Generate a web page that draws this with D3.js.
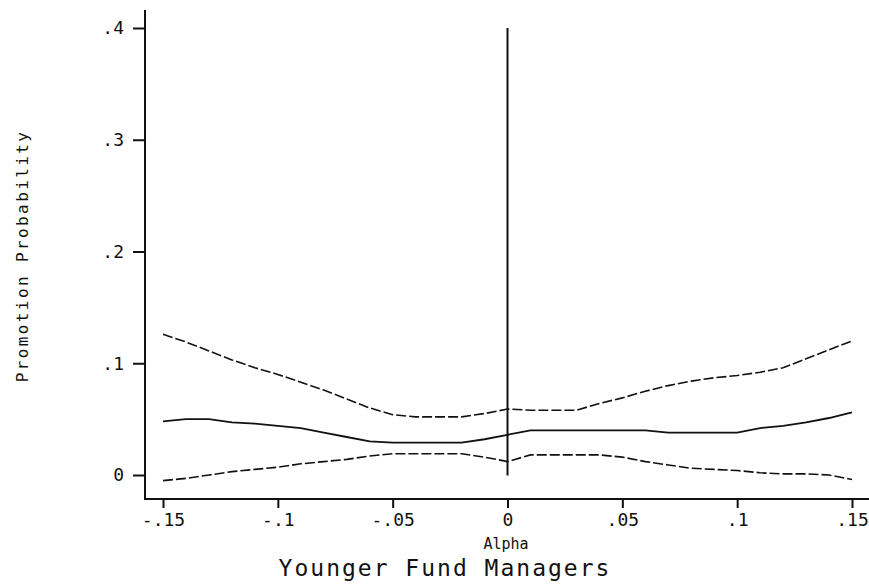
<!DOCTYPE html>
<html>
<head>
<meta charset="utf-8">
<script src="https://cdn.jsdelivr.net/npm/d3@7"></script>
<style>
  html, body { margin: 0; padding: 0; background: #fff; }
  svg { display: block; }
  text { font-family: "DejaVu Sans Mono", "Liberation Mono", monospace; fill: #111; }
</style>
</head>
<body>
<svg id="chart" width="869" height="588"></svg>
<script>
// ---- data ----
const alpha = [-0.15,-0.14,-0.13,-0.12,-0.11,-0.10,-0.09,-0.08,-0.07,-0.06,-0.05,-0.04,-0.03,-0.02,-0.01,
  0.00,0.01,0.02,0.03,0.04,0.05,0.06,0.07,0.08,0.09,0.10,0.11,0.12,0.13,0.14,0.15];
const upper = [0.126,0.119,0.111,0.103,0.096,0.090,0.083,0.076,0.068,0.060,0.054,0.052,0.052,0.052,0.055,
  0.059,0.058,0.058,0.058,0.064,0.069,0.075,0.080,0.084,0.087,0.089,0.092,0.096,0.104,0.112,0.120];
const middle = [0.048,0.050,0.050,0.047,0.046,0.044,0.042,0.038,0.034,0.030,0.029,0.029,0.029,0.029,0.032,
  0.036,0.040,0.040,0.040,0.040,0.040,0.040,0.038,0.038,0.038,0.038,0.042,0.044,0.047,0.051,0.056];
const lower = [-0.005,-0.003,0.000,0.003,0.005,0.007,0.010,0.012,0.014,0.017,0.019,0.019,0.019,0.019,0.016,
  0.012,0.018,0.018,0.018,0.018,0.016,0.012,0.009,0.006,0.005,0.004,0.002,0.001,0.001,0.000,-0.004];
const xTicks = [-0.15,-0.1,-0.05,0,0.05,0.1,0.15];
const xTickLabels = ["-.15","-.1","-.05","0",".05",".1",".15"];
const yTicks = [0,0.1,0.2,0.3,0.4];
const yTickLabels = ["0",".1",".2",".3",".4"];
const vlineX = 0;
const vlineRange = [0.013, 0.4];

// ---- layout ----
const svg = d3.select("#chart");
const x = d3.scaleLinear().domain([-0.15, 0.15]).range([163, 852]);
const y = d3.scaleLinear().domain([0, 0.4]).range([475, 28]);
const axisX = 145, axisY = 499;
const ink = "#111";

// axes lines
svg.append("line").attr("x1", axisX).attr("x2", axisX).attr("y1", 10).attr("y2", axisY + 1)
  .attr("stroke", ink).attr("stroke-width", 2);
svg.append("line").attr("x1", axisX).attr("x2", 869).attr("y1", axisY).attr("y2", axisY)
  .attr("stroke", ink).attr("stroke-width", 2);

// y ticks
const yAxis = d3.axisLeft(y).tickValues(yTicks).tickSize(12).tickPadding(9)
  .tickFormat((d, i) => yTickLabels[i]);
const gy = svg.append("g").attr("transform", `translate(${axisX},0)`).call(yAxis);
gy.select(".domain").remove();
gy.selectAll(".tick line").attr("stroke", ink).attr("stroke-width", 2);
gy.selectAll(".tick text").style("font-size", "18px").attr("fill", ink);

// x ticks
const xAxis = d3.axisBottom(x).tickValues(xTicks).tickSize(9).tickPadding(5)
  .tickFormat((d, i) => xTickLabels[i]);
const gx = svg.append("g").attr("transform", `translate(0,${axisY})`).call(xAxis);
gx.select(".domain").remove();
gx.selectAll(".tick line").attr("stroke", ink).attr("stroke-width", 2);
gx.selectAll(".tick text").style("font-size", "18px").attr("fill", ink);

// vertical reference line at alpha = 0
svg.append("line")
  .attr("x1", x(vlineX)).attr("x2", x(vlineX))
  .attr("y1", y(vlineRange[1])).attr("y2", y(vlineRange[0]) + 15)
  .attr("stroke", ink).attr("stroke-width", 2);

// series
const line = d3.line().x((d, i) => x(alpha[i])).y(d => y(d));
svg.append("path").attr("d", line(upper)).attr("fill", "none").attr("stroke", ink)
  .attr("stroke-width", 1.6).attr("stroke-dasharray", "10,3");
svg.append("path").attr("d", line(middle)).attr("fill", "none").attr("stroke", ink)
  .attr("stroke-width", 1.8);
svg.append("path").attr("d", line(lower)).attr("fill", "none").attr("stroke", ink)
  .attr("stroke-width", 1.6).attr("stroke-dasharray", "10,3");

// labels
svg.append("text").attr("x", 506).attr("y", 549).attr("text-anchor", "middle")
  .style("font-size", "15px").text("Alpha");
svg.append("text").attr("x", 445).attr("y", 576).attr("text-anchor", "middle")
  .style("font-size", "23px").style("letter-spacing", "2px").text("Younger Fund Managers");
svg.append("text").attr("transform", "translate(28,256) rotate(-90)").attr("text-anchor", "middle")
  .style("font-size", "16px").style("letter-spacing", "2.4px").text("Promotion Probability");
</script>
</body>
</html>
